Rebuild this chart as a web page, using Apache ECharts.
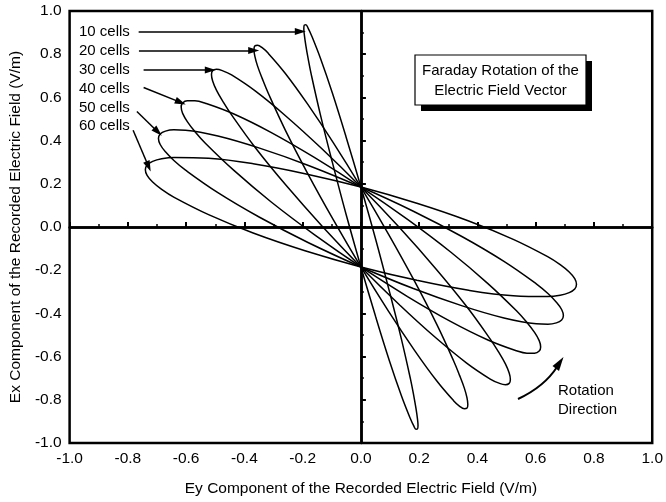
<!DOCTYPE html>
<html>
<head>
<meta charset="utf-8">
<script src="https://cdn.jsdelivr.net/npm/echarts@6/dist/echarts.min.js"></script>
<style>
  html, body { margin: 0; padding: 0; background: #fff; }
  #chart { width: 666px; height: 502px; }
</style>
</head>
<body>
<div id="chart"></div>
<script>
// Ellipse traces: [Ey, Ex] pairs (V/m)
const cells10 = [[0,-0.185],[-0.051,0.059],[-0.098,0.299],[-0.139,0.519],[-0.170,0.703],[-0.181,0.778],[-0.189,0.840],[-0.194,0.887],[-0.196,0.919],[-0.194,0.935],[-0.189,0.936],[-0.181,0.920],[-0.170,0.888],[-0.139,0.781],[-0.098,0.620],[-0.051,0.417],[0,0.185],[0.051,-0.059],[0.098,-0.299],[0.139,-0.519],[0.170,-0.703],[0.181,-0.778],[0.189,-0.840],[0.194,-0.887],[0.196,-0.919],[0.194,-0.935],[0.189,-0.936],[0.181,-0.920],[0.170,-0.888],[0.139,-0.781],[0.098,-0.620],[0.051,-0.417]];
const cells20 = [[0,-0.185],[-0.095,0.034],[-0.184,0.251],[-0.260,0.450],[-0.318,0.619],[-0.339,0.688],[-0.355,0.746],[-0.364,0.790],[-0.367,0.822],[-0.364,0.839],[-0.355,0.841],[-0.339,0.830],[-0.318,0.804],[-0.260,0.712],[-0.184,0.571],[-0.095,0.391],[0,0.185],[0.095,-0.034],[0.184,-0.251],[0.260,-0.450],[0.318,-0.619],[0.339,-0.688],[0.355,-0.746],[0.364,-0.790],[0.367,-0.822],[0.364,-0.839],[0.355,-0.841],[0.339,-0.830],[0.318,-0.804],[0.260,-0.712],[0.184,-0.571],[0.095,-0.391]];
const cells30 = [[0,-0.185],[-0.133,0.004],[-0.257,0.193],[-0.363,0.368],[-0.444,0.519],[-0.474,0.582],[-0.496,0.634],[-0.509,0.676],[-0.513,0.706],[-0.509,0.724],[-0.496,0.730],[-0.474,0.723],[-0.444,0.704],[-0.363,0.630],[-0.257,0.513],[-0.133,0.361],[0,0.185],[0.133,-0.004],[0.257,-0.193],[0.363,-0.368],[0.444,-0.519],[0.474,-0.582],[0.496,-0.634],[0.509,-0.676],[0.513,-0.706],[0.509,-0.724],[0.496,-0.730],[0.474,-0.723],[0.444,-0.704],[0.363,-0.630],[0.257,-0.513],[0.133,-0.361]];
const cells40 = [[0,-0.185],[-0.160,-0.035],[-0.309,0.117],[-0.436,0.262],[-0.534,0.388],[-0.570,0.442],[-0.596,0.488],[-0.612,0.526],[-0.617,0.555],[-0.612,0.574],[-0.596,0.584],[-0.570,0.584],[-0.534,0.573],[-0.436,0.523],[-0.309,0.438],[-0.160,0.322],[0,0.185],[0.160,0.035],[0.309,-0.117],[0.436,-0.262],[0.534,-0.388],[0.570,-0.442],[0.596,-0.488],[0.612,-0.526],[0.617,-0.555],[0.612,-0.574],[0.596,-0.584],[0.570,-0.584],[0.534,-0.573],[0.436,-0.523],[0.309,-0.438],[0.160,-0.322]];
const cells50 = [[0,-0.185],[-0.180,-0.073],[-0.348,0.045],[-0.491,0.159],[-0.602,0.263],[-0.642,0.308],[-0.671,0.348],[-0.689,0.382],[-0.695,0.410],[-0.689,0.431],[-0.671,0.444],[-0.642,0.450],[-0.602,0.448],[-0.491,0.421],[-0.348,0.365],[-0.180,0.285],[0,0.185],[0.180,0.073],[0.348,-0.045],[0.491,-0.159],[0.602,-0.263],[0.642,-0.308],[0.671,-0.348],[0.689,-0.382],[0.695,-0.410],[0.689,-0.431],[0.671,-0.444],[0.642,-0.450],[0.602,-0.448],[0.491,-0.421],[0.348,-0.365],[0.180,-0.285]];
const cells60 = [[0,-0.185],[-0.192,-0.110],[-0.370,-0.028],[-0.523,0.057],[-0.641,0.137],[-0.684,0.174],[-0.715,0.208],[-0.734,0.239],[-0.740,0.265],[-0.734,0.287],[-0.715,0.304],[-0.684,0.316],[-0.641,0.322],[-0.523,0.318],[-0.370,0.293],[-0.192,0.247],[0,0.185],[0.192,0.110],[0.370,0.028],[0.523,-0.057],[0.641,-0.137],[0.684,-0.174],[0.715,-0.208],[0.734,-0.239],[0.740,-0.265],[0.734,-0.287],[0.715,-0.304],[0.684,-0.316],[0.641,-0.322],[0.523,-0.318],[0.370,-0.293],[0.192,-0.247]];

const seriesNames = ['10 cells','20 cells','30 cells','40 cells','50 cells','60 cells'];
const seriesData = [cells10, cells20, cells30, cells40, cells50, cells60];

// Annotation arrows (from label to curve), in data units [start, end]
const arrowStarts = [[-0.763,0.905],[-0.762,0.817],[-0.746,0.727],[-0.746,0.646],[-0.769,0.535],[-0.782,0.448]];
const arrowEnds   = [[-0.208,0.905],[-0.368,0.817],[-0.517,0.727],[-0.619,0.577],[-0.697,0.440],[-0.729,0.280]];

const xTicks = { min: -1, max: 1, step: 0.2 };
const yTicks = { min: -1, max: 1, step: 0.2 };

const FONT = "'Liberation Sans', Arial, Helvetica, sans-serif";

function closeLoop(arr) {
  return [arr[arr.length - 1]].concat(arr, [arr[0], arr[1]]);
}

const chart = echarts.init(document.getElementById('chart'), null, { renderer: 'canvas' });

const axisCommon = {
  type: 'value',
  interval: 0.2,
  axisLine: { show: true, lineStyle: { color: '#000', width: 2.5 } },
  axisTick: { show: true, inside: true, length: 5, lineStyle: { color: '#000', width: 2 } },
  minorTick: { show: true, splitNumber: 2, length: 3, lineStyle: { color: '#000', width: 1.5 } },
  splitLine: { show: false },
  minorSplitLine: { show: false },
  axisLabel: {
    color: '#000', fontSize: 15.5, fontFamily: FONT, margin: 8,
    formatter: v => (Math.abs(v) < 1e-9 ? 0 : v).toFixed(1)
  },
  nameLocation: 'middle',
  nameTextStyle: { color: '#000', fontSize: 15.5, fontFamily: FONT }
};

const series = seriesData.map((d, i) => ({
  name: seriesNames[i],
  type: 'line',
  data: closeLoop(d),
  smooth: 0.4,
  showSymbol: false,
  symbol: 'none',
  lineStyle: { color: '#000', width: 1.5 },
  z: 3,
  animation: false,
  silent: true
}));

// Zero lines
series[0].markLine = {
  silent: true,
  symbol: 'none',
  label: { show: false },
  lineStyle: { color: '#000', width: 2.5, type: 'solid' },
  data: [{ xAxis: 0 }, { yAxis: 0 }],
  animation: false
};
// Label arrows
series[1].markLine = {
  silent: true,
  symbol: ['none', 'triangle'],
  symbolSize: [7, 11],
  label: { show: false },
  lineStyle: { color: '#000', width: 1.5, type: 'solid' },
  data: arrowStarts.map((s, i) => [{ coord: s }, { coord: arrowEnds[i] }]),
  animation: false
};

const labelTexts = seriesNames.map((n, i) => ({
  type: 'text',
  left: 79,
  top: [24, 43, 62, 81, 100, 118][i],
  style: { text: n, font: "15px " + FONT, fill: '#000' },
  z: 10
}));

chart.setOption({
  animation: false,
  backgroundColor: '#fff',
  grid: { left: 67, right: 11, top: 11, bottom: 55, show: true, borderColor: '#000', borderWidth: 2.5, backgroundColor: 'transparent' },
  xAxis: Object.assign({}, axisCommon, {
    min: xTicks.min, max: xTicks.max, interval: xTicks.step,
    name: 'Ey Component of the Recorded Electric Field (V/m)', nameGap: 38
  }),
  yAxis: Object.assign({}, axisCommon, {
    min: yTicks.min, max: yTicks.max, interval: yTicks.step,
    name: 'Ex Component of the Recorded Electric Field (V/m)', nameGap: 44
  }),
  series: series,
  graphic: labelTexts.concat([
    { type: 'rect', shape: { x: 421, y: 61, width: 171, height: 50 }, style: { fill: '#000' }, z: 10 },
    { type: 'rect', shape: { x: 415, y: 55, width: 171, height: 50 }, style: { fill: '#fff', stroke: '#000', lineWidth: 1.2 }, z: 11 },
    { type: 'text', x: 500.5, y: 71, style: { text: 'Faraday Rotation of the', font: "15px " + FONT, fill: '#000', textAlign: 'center', textVerticalAlign: 'middle' }, z: 12 },
    { type: 'text', x: 500.5, y: 91, style: { text: 'Electric Field Vector', font: "15px " + FONT, fill: '#000', textAlign: 'center', textVerticalAlign: 'middle' }, z: 12 },
    { type: 'bezierCurve', shape: { x1: 518, y1: 399, x2: 557, y2: 367, cpx1: 535, cpy1: 391, cpx2: 548, cpy2: 381 }, style: { stroke: '#000', lineWidth: 2, fill: null }, z: 10 },
    { type: 'polygon', shape: { points: [[563.5, 357], [559, 371], [552.5, 366]] }, style: { fill: '#000' }, z: 10 },
    { type: 'text', left: 558, top: 383, style: { text: 'Rotation', font: "15px " + FONT, fill: '#000' }, z: 10 },
    { type: 'text', left: 558, top: 402, style: { text: 'Direction', font: "15px " + FONT, fill: '#000' }, z: 10 }
  ])
});
</script>
</body>
</html>
